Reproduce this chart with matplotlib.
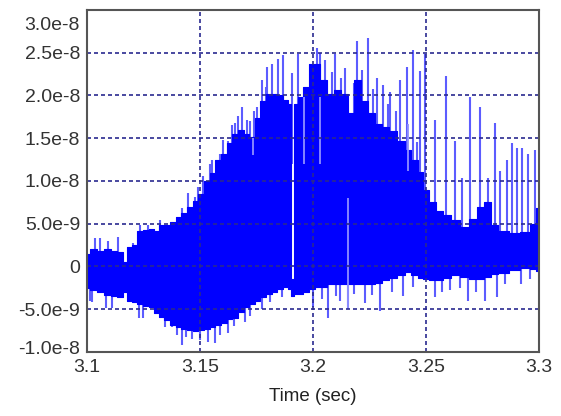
import numpy as np
import matplotlib.pyplot as plt
import matplotlib.transforms as mtransforms

plt.rcParams['font.family'] = ['Liberation Sans', 'DejaVu Sans']

# signal envelope (values in units of 1e-9)
env_t = [3.1000, 3.1030, 3.1060, 3.1090, 3.1120, 3.1150, 3.1170, 3.1185, 3.1210, 3.1235,
         3.1260, 3.1285, 3.1305, 3.1330, 3.1355, 3.1380, 3.1405, 3.1430, 3.1455, 3.1480,
         3.1505, 3.1530, 3.1555, 3.1580, 3.1605, 3.1630, 3.1655, 3.1680, 3.1705, 3.1730,
         3.1755, 3.1780, 3.1805, 3.1830, 3.1855, 3.1880, 3.1898, 3.1903, 3.1912, 3.1920,
         3.1945, 3.1970, 3.1995, 3.2020, 3.2045, 3.2075, 3.2110, 3.2140, 3.2165, 3.2195,
         3.2230, 3.2260, 3.2290, 3.2320, 3.2355, 3.2390, 3.2420, 3.2450, 3.2475, 3.2496,
         3.2527, 3.2560, 3.2590, 3.2628, 3.2673, 3.2710, 3.2739, 3.2770, 3.2800, 3.2840,
         3.2894, 3.2940, 3.2975, 3.3000]
env_top = [1.5, 2.0, 1.8, 2.0, 1.8, 1.7, 0.5, 2.3, 2.5, 4.2,
           4.3, 4.4, 4.2, 4.8, 4.9, 5.2, 5.8, 6.3, 7.0, 7.6,
           8.5, 10.0, 10.9, 12.4, 13.2, 14.4, 15.5, 16.0, 15.5, 15.1,
           17.4, 19.4, 20.2, 20.2, 20.0, 19.5, 19.0, -1.5, -1.5, 19.0,
           19.8, 21.0, 23.7, 23.7, 21.8, 20.2, 20.6, 20.2, 17.9, 21.8,
           19.4, 17.9, 16.7, 16.3, 15.9, 14.7, 13.6, 12.5, 11.0, 9.0,
           7.5, 6.5, 6.0, 5.4, 4.6, 5.5, 6.9, 7.5, 4.8, 4.2,
           3.9, 4.0, 5.0, 6.8]
env_bot = [-2.5, -2.8, -3.0, -3.3, -3.4, -3.6, -3.0, -4.0, -4.2, -4.4,
           -4.6, -4.8, -5.4, -5.9, -6.3, -6.8, -7.1, -7.3, -7.4, -7.5,
           -7.4, -7.3, -7.1, -6.8, -6.6, -6.2, -6.0, -5.3, -4.8, -4.4,
           -4.0, -3.6, -3.2, -3.0, -2.6, -2.4, -2.6, -3.5, -3.5, -3.2,
           -3.2, -3.0, -2.6, -2.4, -2.4, -2.0, -2.0, -2.0, -2.0, -2.0,
           -2.0, -2.0, -1.9, -1.6, -1.3, -1.0, -0.6, -1.0, -1.3, -1.5,
           -1.6, -1.6, -1.4, -1.0, -1.2, -1.5, -1.5, -1.2, -0.9, -0.8,
           -0.4, -0.2, -0.3, -0.5]

# isolated spikes (time, low end, high end), units of 1e-9
spike_t = [3.1035, 3.1057, 3.1093, 3.1137, 3.1204, 3.1235, 3.1270, 3.1323, 3.1420, 3.1478,
           3.1553, 3.1589, 3.1624, 3.1655, 3.1686, 3.1708, 3.1752, 3.1774, 3.1797, 3.1819,
           3.1845, 3.1867, 3.1907, 3.1934, 3.1965, 3.1996, 3.2018, 3.2053, 3.2097, 3.2142,
           3.2195, 3.2243, 3.2283, 3.2310, 3.2341, 3.2385, 3.2416, 3.2443, 3.2474, 3.2496,
           3.2540, 3.2589, 3.2628, 3.2659, 3.2695, 3.2739, 3.2774, 3.2805, 3.2827, 3.2858,
           3.2881, 3.2903, 3.2925, 3.2951, 3.2982,
           3.1013, 3.1022, 3.1084, 3.1110, 3.1230, 3.1248, 3.1346, 3.1376, 3.1420, 3.1464,
           3.1535, 3.1566, 3.1624, 3.1699, 3.1774, 3.1863, 3.2000, 3.2066, 3.2119, 3.2155,
           3.2230, 3.2296, 3.2398, 3.2540, 3.2606, 3.2686, 3.2761, 3.2814, 3.2920,
           3.1445, 3.1490, 3.1515, 3.1545, 3.1600, 3.1640, 3.1668, 3.1720, 3.1740, 3.1790,
           3.2030, 3.2085, 3.2125, 3.2180, 3.2215, 3.2265, 3.2330, 3.2365, 3.2460,
           3.1398, 3.1440, 3.1500, 3.1590, 3.1650, 3.1720, 3.1810, 3.2040, 3.2100, 3.2180,
           3.2260, 3.2350, 3.2440, 3.2570, 3.2650, 3.2720, 3.2850, 3.2960]
spike_lo = [0, 0, 0, 0, 0, 0, 0, 0, 0, 0,
            0, 0, 0, 0, 0, 0, 0, 0, 0, 0,
            0, 0, 12.0, 0, 0, 0, 0, 0, 0, 0,
            0, 0, 0, 0, 0, 0, 0, 0, 0, 0,
            0, 0, 0, 0, 0, 0, 0, 0, 0, 0,
            0, 0, 0, 0, 0,
            -4.0, -4.2, -4.9, -4.9, -6.0, -6.0, -7.1, -7.1, -9.2, -8.5,
            -8.8, -8.9, -7.8, -6.5, -5.0, -3.6, -4.8, -6.0, -4.0, -5.0,
            -4.3, -5.2, -3.5, -3.6, -2.7, -4.0, -4.0, -3.6, -2.0,
            0, 0, 0, 0, 0, 0, 0, 0, 0, 0,
            0, 0, 0, 0, 0, 0, 0, 0, 0,
            -8.0, -8.3, -8.6, -8.0, -7.0, -5.8, -4.2, -3.8, -3.4, -3.2,
            -3.3, -3.0, -2.4, -3.0, -2.5, -3.0, -2.0, -1.5]
spike_hi = [3.3, 3.3, 3.0, 3.4, 2.8, 4.8, 4.8, 5.4, 6.8, 8.1,
            12.4, 13.2, 14.7, 16.8, 18.6, 17.1, 18.6, 21.8, 23.3, 23.7,
            24.3, 24.7, 22.6, 24.9, 20.9, 22.9, 25.6, 24.1, 24.9, 23.2,
            26.4, 26.7, 22.0, 21.2, 20.4, 21.8, 23.3, 25.3, 22.9, 24.9,
            17.1, 22.3, 14.7, 10.4, 19.8, 18.6, 10.4, 16.8, 11.2, 12.4,
            14.4, 13.9, 13.8, 13.2, 13.6,
            0, 0, 0, 0, 0, 0, 0, 0, 0, 0,
            0, 0, 0, 0, 0, 0, 0, 0, 0, 0,
            0, 0, 0, 0, 0, 0, 0, 0, 0,
            8.6, 9.3, 10.6, 12.0, 14.8, 16.5, 17.6, 17.0, 18.2, 21.0,
            25.0, 22.8, 22.0, 21.5, 23.0, 20.8, 19.0, 18.2, 14.5,
            0, 0, 0, 0, 0, 0, 0, 0, 0, 0,
            0, 0, 0, 0, 0, 0, 0, 0]

# lighter streaks seen inside the dense part
streak_t = [3.1960, 3.2155, 3.2420, 3.1735, 3.2030]
streak_lo = [12.0, -5.0, 11.2, 13.0, 12.0]
streak_hi = [19.8, 8.0, 16.7, 15.0, 19.8]

x_ticks = [3.1, 3.15, 3.2, 3.25, 3.3]
x_labels = ['3.1', '3.15', '3.2', '3.25', '3.3']
y_ticks = [-1.0e-8, -5.0e-9, 0, 5.0e-9, 1.0e-8, 1.5e-8, 2.0e-8, 2.5e-8, 3.0e-8]
y_labels = ['-1.0e-8', '-5.0e-9', '0', '5.0e-9', '1.0e-8', '1.5e-8', '2.0e-8', '2.5e-8', '3.0e-8']

scale = 1e-9

fig = plt.figure(figsize=(5.61, 4.16), dpi=100)
ax = fig.add_axes([0.155, 0.154, 0.806, 0.822])

# spikes go underneath so only the part sticking out of the dense band shows
ax.vlines(spike_t, np.array(spike_lo) * scale, np.array(spike_hi) * scale,
          color='#5c5cff', lw=1.5, zorder=1)
ax.fill_between(env_t, np.array(env_bot) * scale, np.array(env_top) * scale,
                step='mid', color='#0000ff', lw=0.8, edgecolor='#0000ff', zorder=1.2)
ax.vlines(streak_t, np.array(streak_lo) * scale, np.array(streak_hi) * scale,
          color='#9090ff', lw=1.3, zorder=1.5)

ax.set_xlim(3.1, 3.3)
ax.set_ylim(-1.0e-8, 3.0e-8)
ax.set_xticks(x_ticks)
ax.set_xticklabels(x_labels)
ax.set_yticks(y_ticks)
ax.set_yticklabels(y_labels)

ax.tick_params(length=0, labelsize=14, labelcolor='#333333', pad=5)
ax.set_xlabel('Time (sec)', fontsize=13.5, color='#222222', labelpad=9)

# top label sits a bit below the frame in the original
top_lab = ax.get_yticklabels()[-1]
top_lab.set_verticalalignment('top')
top_lab.set_transform(top_lab.get_transform() +
                      mtransforms.ScaledTranslation(0, -5 / 72, fig.dpi_scale_trans))
bot_lab = ax.get_yticklabels()[0]
bot_lab.set_transform(bot_lab.get_transform() +
                      mtransforms.ScaledTranslation(0, 3 / 72, fig.dpi_scale_trans))

ax.set_axisbelow(False)
ax.grid(True, color='#2a2a90', linestyle=(0, (2.4, 1.8)), lw=1.2)
# no grid lines on the frame itself
for gl in [ax.xaxis.get_gridlines()[0], ax.xaxis.get_gridlines()[-1],
           ax.yaxis.get_gridlines()[0], ax.yaxis.get_gridlines()[-1]]:
    gl.set_visible(False)

for s in ax.spines.values():
    s.set_color('#555555')
    s.set_linewidth(1.5)
    s.set_zorder(3)

fig.savefig('out.png', dpi=100)
